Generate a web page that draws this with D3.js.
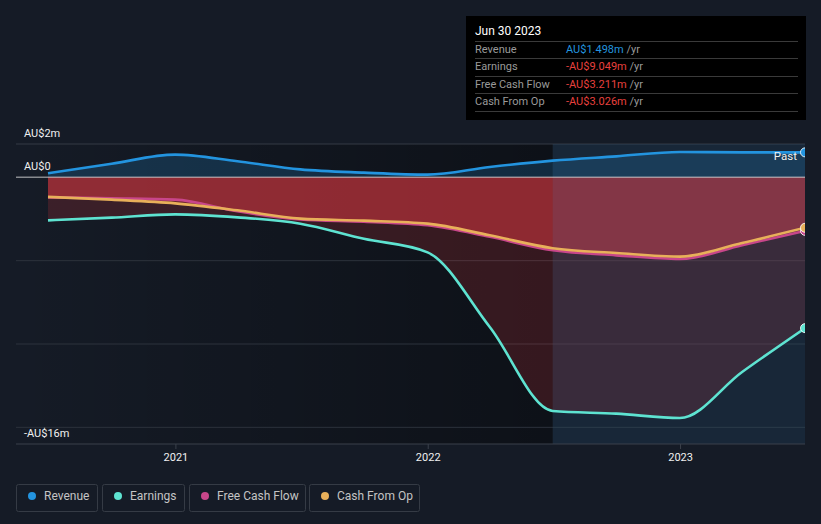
<!DOCTYPE html>
<html>
<head>
<meta charset="utf-8">
<script src="https://cdn.jsdelivr.net/npm/d3@7"></script>
<style>
  html, body { margin: 0; padding: 0; background: #151b26; }
  svg { display: block; font-family: Roboto, "Noto Sans", sans-serif; }
</style>
</head>
<body>
<svg id="chart" width="821" height="524"></svg>
<script>
// ---- data (AU$ millions) ----
const dates = ["2020-06-30","2020-09-30","2020-12-31","2021-03-31","2021-06-30","2021-09-30","2021-12-31","2022-03-31","2022-06-30","2022-09-30","2022-12-31","2023-03-31","2023-06-30"];
const revenue  = [0.24, 0.82, 1.36, 0.96, 0.48, 0.28, 0.16, 0.62, 1.00, 1.26, 1.52, 1.50, 1.498];
const earnings = [-2.58, -2.42, -2.22, -2.40, -2.78, -3.69, -4.50, -8.98, -14.02, -14.18, -14.44, -11.68, -9.049];
const fcf      = [-1.20, -1.26, -1.34, -2.04, -2.52, -2.66, -2.88, -3.57, -4.38, -4.68, -4.90, -4.08, -3.211];
const cfo      = [-1.17, -1.34, -1.56, -1.98, -2.48, -2.60, -2.78, -3.48, -4.25, -4.54, -4.76, -3.94, -3.026];
const yTicks = [2, 0, -16];
const yTickLabels = ["AU$2m", "AU$0", "-AU$16m"];
const yGrid = [-5, -10, -15];
const xTickYears = ["2021-01-01", "2022-01-01", "2023-01-01"];
const xTickLabels = ["2021", "2022", "2023"];
const seriesNames = ["Revenue", "Earnings", "Free Cash Flow", "Cash From Op"];
const seriesColors = ["#2394df", "#5ee3d1", "#c8468a", "#e8b05a"];
const tooltipTitle = "Jun 30 2023";
const tooltipValues = ["AU$1.498m", "-AU$9.049m", "-AU$3.211m", "-AU$3.026m"];
const pastStart = "2022-06-30";

// ---- layout ----
const W = 821, H = 524;
const plotLeft = 16, plotRight = 805, plotTop = 144, plotBottom = 444;
const parse = d3.timeParse("%Y-%m-%d");
const dts = dates.map(parse);

const x = d3.scaleTime().domain([dts[0], dts[dts.length - 1]]).range([48, 805]);
const y = d3.scaleLinear().domain([-16, 2]).range([plotBottom, plotTop]);

const svg = d3.select("#chart");
const defs = svg.append("defs");

svg.append("rect").attr("width", W).attr("height", H).attr("fill", "#151b26");

// darkening gradient before the past region
const lg = defs.append("linearGradient").attr("id", "leftShade").attr("x1", "0").attr("x2", "1").attr("y1", "0").attr("y2", "0");
lg.append("stop").attr("offset", "0").attr("stop-color", "#000").attr("stop-opacity", 0);
lg.append("stop").attr("offset", "1").attr("stop-color", "#000").attr("stop-opacity", 0.38);

const xPast = x(parse(pastStart));
svg.append("rect").attr("x", plotLeft).attr("y", plotTop).attr("width", xPast - plotLeft).attr("height", plotBottom - plotTop)
  .attr("fill", "url(#leftShade)");

defs.append("clipPath").attr("id", "plotClip").append("rect")
  .attr("x", plotLeft).attr("y", plotTop - 10).attr("width", plotRight - plotLeft).attr("height", plotBottom - plotTop + 10);

// gridlines
svg.append("g").selectAll("line").data(yGrid).join("line")
  .attr("x1", plotLeft).attr("x2", plotRight).attr("y1", d => y(d)).attr("y2", d => y(d))
  .attr("stroke", "#2c323c").attr("stroke-width", 1);
svg.append("line").attr("x1", plotLeft).attr("x2", plotRight).attr("y1", y(2)).attr("y2", y(2))
  .attr("stroke", "#353b45").attr("stroke-width", 1);

const g = svg.append("g").attr("clip-path", "url(#plotClip)");

const idx = d3.range(dts.length);
function area(vals) {
  return d3.area().x(i => x(dts[i])).y0(y(0)).y1(i => y(vals[i])).curve(d3.curveMonotoneX)(idx);
}
function line(vals) {
  return d3.line().x(i => x(dts[i])).y(i => y(vals[i])).curve(d3.curveMonotoneX)(idx);
}

// areas
g.append("path").attr("d", area(revenue)).attr("fill", "rgba(35,148,223,0.2)");
g.append("path").attr("d", area(earnings)).attr("fill", "rgba(215,55,62,0.2)");
g.append("path").attr("d", area(fcf)).attr("fill", "rgba(218,56,64,0.32)");
g.append("path").attr("d", area(cfo)).attr("fill", "rgba(218,56,64,0.32)");

// past region overlay
g.append("rect").attr("x", xPast).attr("y", plotTop).attr("width", plotRight - xPast).attr("height", plotBottom - plotTop)
  .attr("fill", "rgba(45,120,175,0.13)");

// zero line
svg.append("line").attr("x1", plotLeft).attr("x2", plotRight).attr("y1", y(0)).attr("y2", y(0))
  .attr("stroke", "rgba(230,230,230,0.55)").attr("stroke-width", 1.5);

// lines
const allSeries = [revenue, earnings, fcf, cfo];
allSeries.forEach((vals, k) => {
  g.append("path").attr("d", line(vals)).attr("fill", "none")
    .attr("stroke", seriesColors[k]).attr("stroke-width", 2.6).attr("stroke-linejoin", "round");
});
// end markers
allSeries.forEach((vals, k) => {
  g.append("circle").attr("cx", x(dts[dts.length - 1])).attr("cy", y(vals[vals.length - 1])).attr("r", 4.5)
    .attr("fill", seriesColors[k]).attr("stroke", "rgba(255,255,255,0.85)").attr("stroke-width", 1);
});

// x axis
svg.append("line").attr("x1", plotLeft).attr("x2", plotRight).attr("y1", plotBottom).attr("y2", plotBottom)
  .attr("stroke", "#3b414b").attr("stroke-width", 1);
const xt = svg.append("g").selectAll("g").data(xTickYears).join("g")
  .attr("transform", d => `translate(${x(parse(d))},0)`);
xt.append("line").attr("y1", plotBottom).attr("y2", plotBottom + 5).attr("stroke", "#3b414b");
xt.append("text").attr("y", 461).attr("text-anchor", "middle").attr("fill", "#f0f0f0")
  .attr("font-size", 11).text((d, i) => xTickLabels[i]);

// y labels
const yLabelBase = [137, 170, 437];
svg.append("g").selectAll("text").data(yTicks).join("text")
  .attr("x", 24).attr("y", (d, i) => yLabelBase[i]).attr("fill", "#f0f0f0").attr("font-size", 11)
  .text((d, i) => yTickLabels[i]);

// Past label
svg.append("text").attr("x", 797).attr("y", 160).attr("text-anchor", "end").attr("fill", "#f0f0f0")
  .attr("font-size", 11.5).text("Past");

// tooltip
const tt = svg.append("g");
tt.append("rect").attr("x", 466).attr("y", 16).attr("width", 340).attr("height", 104).attr("fill", "#000");
tt.append("text").attr("x", 475).attr("y", 35).attr("fill", "#ffffff").attr("font-size", 12).text(tooltipTitle);
const sepY = [41, 58, 76, 93, 111];
tt.selectAll("line").data(sepY).join("line")
  .attr("x1", 475).attr("x2", 798).attr("y1", d => d + 0.5).attr("y2", d => d + 0.5)
  .attr("stroke", "#3a3a3a").attr("stroke-width", 1);
const rowBase = [53, 70, 88, 105];
seriesNames.forEach((n, i) => {
  tt.append("text").attr("x", 475).attr("y", rowBase[i]).attr("fill", "#9a9a9a").attr("font-size", 11).text(n);
  const t = tt.append("text").attr("x", 566).attr("y", rowBase[i]).attr("font-size", 11);
  t.append("tspan").attr("fill", i === 0 ? "#2394df" : "#e8413e").text(tooltipValues[i]);
  t.append("tspan").attr("fill", "#9a9a9a").text(" /yr");
});

// legend
const legendBoxes = [[16, 81], [102, 82], [189, 116], [309, 110]];
const lgG = svg.append("g");
seriesNames.forEach((n, i) => {
  const [bx, bw] = legendBoxes[i];
  lgG.append("rect").attr("x", bx + 0.5).attr("y", 484.5).attr("width", bw).attr("height", 27).attr("rx", 2)
    .attr("fill", "none").attr("stroke", "#353b45");
  lgG.append("circle").attr("cx", bx + 16).attr("cy", 496).attr("r", 4).attr("fill", seriesColors[i]);
  lgG.append("text").attr("x", bx + 28).attr("y", 500).attr("fill", "#c4c4c4").attr("font-size", 12).text(n);
});
</script>
</body>
</html>
